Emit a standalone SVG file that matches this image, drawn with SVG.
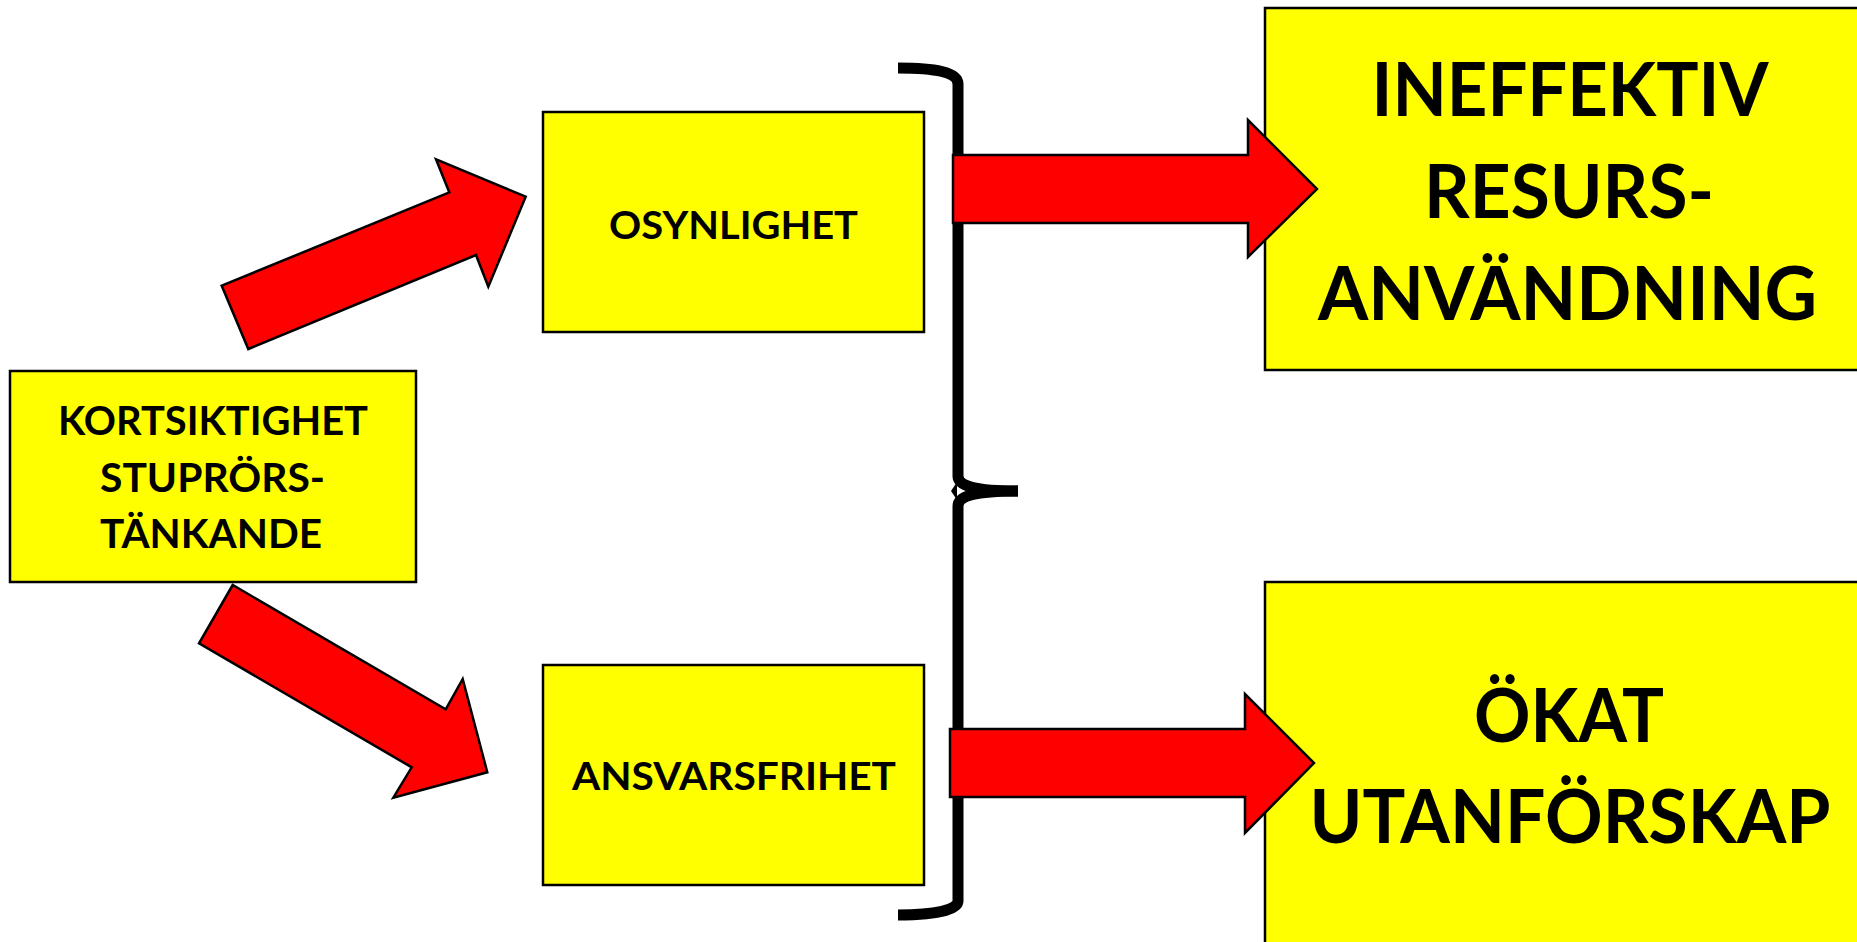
<svg xmlns="http://www.w3.org/2000/svg" width="1857" height="942" viewBox="0 0 1857 942">
<style>
.box{fill:#FFFF00;stroke:#000;stroke-width:2.5}
.arrow{fill:#FF0000;stroke:#000;stroke-width:2.5;stroke-linejoin:miter}
.t{font-family:Lato,"Open Sans","Liberation Sans",sans-serif;font-weight:bold;fill:#000;text-anchor:middle}
.brace{fill:none;stroke:#000;stroke-width:11}
</style>
<rect width="1857" height="942" fill="#fff"/>
<g id="node-kortsiktighet">
<rect class="box" x="10" y="371" width="406" height="211"/>
<text class="t" font-size="40" x="213" y="435" textLength="310" lengthAdjust="spacingAndGlyphs">KORTSIKTIGHET</text>
<text class="t" font-size="40" x="212.5" y="492" textLength="225" lengthAdjust="spacingAndGlyphs">STUPRÖRS-</text>
<text class="t" font-size="40" x="211" y="548" textLength="222" lengthAdjust="spacingAndGlyphs">TÄNKANDE</text>
</g>
<g id="node-osynlighet">
<rect class="box" x="543" y="112" width="381" height="220"/>
<text class="t" font-size="38" x="733.5" y="239" textLength="249" lengthAdjust="spacingAndGlyphs">OSYNLIGHET</text>
</g>
<g id="node-ansvarsfrihet">
<rect class="box" x="543" y="665" width="381" height="220"/>
<text class="t" font-size="38" x="734" y="790" textLength="324" lengthAdjust="spacingAndGlyphs">ANSVARSFRIHET</text>
</g>
<g id="node-ineffektiv">
<rect class="box" x="1265" y="8" width="620" height="362"/>
<text class="t" font-size="75" x="1570" y="116" textLength="397" lengthAdjust="spacingAndGlyphs">INEFFEKTIV</text>
<text class="t" font-size="75" x="1569" y="218" textLength="290" lengthAdjust="spacingAndGlyphs">RESURS-</text>
<text class="t" font-size="75" x="1567.5" y="320" textLength="499" lengthAdjust="spacingAndGlyphs">ANVÄNDNING</text>
</g>
<g id="node-okat">
<rect class="box" x="1265" y="582" width="620" height="380"/>
<text class="t" font-size="75" x="1569" y="742" textLength="190" lengthAdjust="spacingAndGlyphs">ÖKAT</text>
<text class="t" font-size="75" x="1570" y="843" textLength="521" lengthAdjust="spacingAndGlyphs">UTANFÖRSKAP</text>
</g>
<g id="connectors">
<polygon class="arrow" points="221.7,285.7 248.3,349 476,255 488.3,286.7 525.7,196.7 436,159.3 449.3,192.3"/>
<polygon class="arrow" points="232.7,585 199,643.3 411.7,767.3 393.3,797.7 487.3,772.3 462.7,679 445.7,709.3"/>
<path class="brace" d="M898,68 C935,68 958,72 958,84 L958,476 C958,486 975,491 1018,491"/>
<path class="brace" d="M1018,491 C975,491 958,496 958,506 L958,901 C958,910 935,915 898,915"/>
<polygon points="957,482 951,491 957,500" fill="#000"/>
<polygon class="arrow" points="953,155 1248,155 1248,120 1317,189 1248,257 1248,223 953,223"/>
<polygon class="arrow" points="950,729 1245,729 1245,694 1314,763 1245,833 1245,797 950,797"/>
</g>
</svg>
